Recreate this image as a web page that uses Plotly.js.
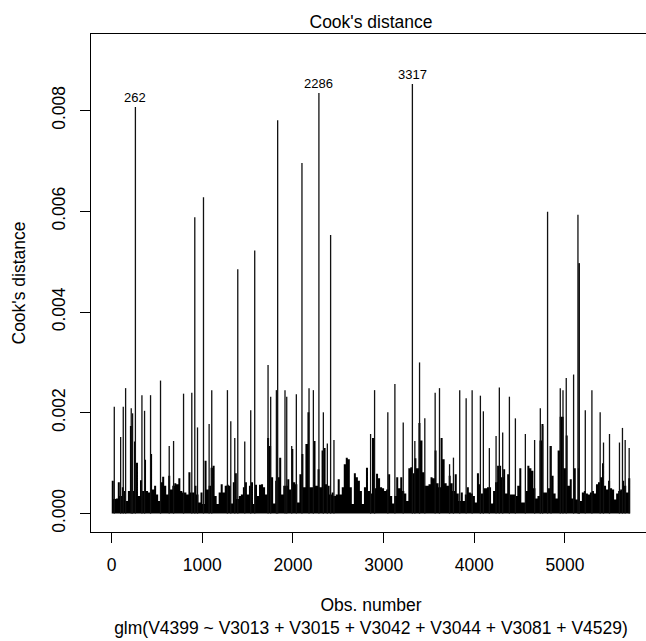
<!DOCTYPE html>
<html>
<head>
<meta charset="utf-8">
<script src="https://cdn.plot.ly/plotly-3.0.1.min.js"></script>
<style>
  html, body { margin: 0; padding: 0; background: #fff; overflow: hidden; }
  #chart { width: 700px; height: 641px; }
</style>
</head>
<body>
<div id="chart"></div>
<script>
// ---- data ----
const nObs = 5720;

// dense low-level Cook's distance mass, left to right (one value per ~22 observations)
const baseCook = [
  .00065,.00029,.00030,.00062,.00035,.00052,.00045,.00025,.00045,.00174,.00045,.00143,.00101,.00035,.00066,.00045,.00107,.00045,.00042,.00118,.00048,.00055,.00038,.00025,.00062,.00073,.00055,.00038,.00075,.00048,.00055,.00060,.00058,.00070,.00045,.00042,.00042,.00038,.00082,.00042,.00042,.00055,
  .00038,.00022,.00042,.00019,.00105,.00048,.00055,.00091,.00095,.00035,.00019,.00042,.00058,.00042,.00055,.00057,.00055,.00020,.00062,.00080,.00029,.00035,.00038,.00052,.00062,.00038,.00055,.00062,.00019,.00057,.00035,.00057,.00058,.00052,.00038,.00150,.00134,.00072,.00020,.00065,.00072,.00111,
  .00038,.00055,.00055,.00068,.00048,.00128,.00062,.00058,.00022,.00078,.00118,.00052,.00138,.00201,.00052,.00052,.00144,.00055,.00088,.00052,.00125,.00130,.00058,.00055,.00038,.00042,.00035,.00038,.00068,.00038,.00052,.00098,.00111,.00108,.00052,.00019,.00080,.00072,.00065,.00045,.00019,.00052,
  .00091,.00045,.00040,.00150,.00050,.00079,.00070,.00052,.00050,.00045,.00048,.00078,.00035,.00020,.00035,.00072,.00050,.00072,.00045,.00040,.00025,.00090,.00092,.00080,.00110,.00090,.00180,.00145,.00082,.00055,.00055,.00058,.00072,.00070,.00125,.00060,.00052,.00150,.00108,.00060,.00055,.00075,
  .00060,.00045,.00078,.00040,.00025,.00042,.00025,.00038,.00052,.00042,.00040,.00035,.00022,.00080,.00058,.00040,.00050,.00050,.00052,.00052,.00020,.00045,.00062,.00095,.00095,.00072,.00088,.00040,.00078,.00038,.00038,.00038,.00035,.00055,.00090,.00022,.00022,.00045,.00095,.00090,.00085,.00050,
  .00030,.00035,.00145,.00178,.00042,.00042,.00050,.00134,.00075,.00040,.00030,.00125,.00192,.00192,.00090,.00155,.00055,.00068,.00030,.00090,.00028,.00090,.00025,.00042,.00045,.00040,.00038,.00042,.00045,.00040,.00058,.00062,.00072,.00100,.00055,.00048,.00065,.00050,.00048,.00028,.00040,.00045,.00048,.00065,.00055,.00042,.00070
];

// individual taller observations
const spikeObs = [
  29, 99, 128, 154, 216, 231, 262, 334, 363, 429,
  539, 635, 683, 793, 884, 917, 947, 1013, 1075, 1104,
  1277, 1314, 1358, 1391, 1468, 1534, 1578, 1725, 1754, 1817,
  1831, 1912, 1931, 1986, 2037, 2099, 2177, 2225, 2286, 2335,
  2379, 2415, 2452, 2856, 2900, 3046, 3124, 3216, 3317, 3344,
  3396, 3454, 3568, 3616, 3727, 3770, 3839, 3910, 3976, 4067,
  4100, 4166, 4240, 4276, 4313, 4387, 4453, 4563, 4665, 4728,
  4753, 4808, 4846, 4948, 4978, 5014, 5095, 5143, 5155, 5158,
  5224, 5297, 5388, 5425, 5491, 5601, 5634, 5664, 5708
];
const spikeCook = [
  .00212, .00152, .00212, .00249, .00209, .00199, .00807, .00235, .00204, .00235,
  .00264, .00134, .00144, .00238, .00240, .00588, .00171, .00628, .00178, .00245,
  .00245, .00183, .00150, .00485, .00143, .00205, .00522, .00295, .00232, .00245,
  .00781, .00245, .00232, .00134, .00237, .00696, .00249, .00245, .00835, .00201,
  .00139, .00553, .00146, .00158, .00245, .00201, .00257, .00181, .00853, .00144,
  .00300, .00189, .00240, .00249, .00098, .00111, .00245, .00229, .00245, .00234,
  .00203, .00130, .00154, .00250, .00161, .00232, .00189, .00158, .00146, .00209,
  .00174, .00599, .00134, .00249, .00245, .00269, .00276, .00593, .00497, .00497,
  .00205, .00245, .00201, .00141, .00158, .00141, .00170, .00146, .00130
];

const labelObs = [262, 2286, 3317];

const xTicks = [0, 1000, 2000, 3000, 4000, 5000];
const yTicks = [0, 0.002, 0.004, 0.006, 0.008];

// ---- build traces ----
const step = (nObs - 1) / baseCook.length;
const baseX = [], baseY = [];
baseCook.forEach((v, i) => { baseX.push(1 + i * step); baseY.push(v); });
baseX.push(nObs); baseY.push(baseCook[baseCook.length - 1]);

const segX = [], segY = [];
spikeObs.forEach((o, i) => { segX.push(o, o, null); segY.push(0, spikeCook[i], null); });

const FONT = 'Liberation Sans, Arial, sans-serif';
const FS = 17.5;

const traces = [
  { type: 'scatter', mode: 'lines', x: baseX, y: baseY, line: { shape: 'hv', width: 0, color: '#000' },
    fill: 'tozeroy', fillcolor: '#000', hoverinfo: 'skip' },
  { type: 'scatter', mode: 'lines', x: segX, y: segY, line: { width: 1.3, color: '#111' },
    connectgaps: false, hoverinfo: 'skip' }
];

const annotations = labelObs.map(o => ({
  x: o, y: spikeCook[spikeObs.indexOf(o)], xref: 'x', yref: 'y',
  text: String(o), showarrow: false, yanchor: 'bottom', xanchor: 'center',
  font: { family: FONT, size: 13, color: '#000' }
}));

const ymaxLim = 0.009154;
const layout = {
  width: 700, height: 641,
  margin: { l: 91, r: 49, t: 34, b: 109 },
  paper_bgcolor: '#fff', plot_bgcolor: '#fff',
  showlegend: false,
  font: { family: FONT, size: FS, color: '#000' },
  title: { text: "Cook's distance", font: { family: FONT, size: FS, color: '#000' },
           x: 371 / 700, xanchor: 'center', xref: 'container', y: 1 - 22 / 641, yanchor: 'middle', yref: 'container' },
  xaxis: {
    range: [1 - 0.04 * (nObs - 1), nObs + 0.04 * (nObs - 1)],
    tickvals: xTicks, tickformat: 'd',
    showline: true, mirror: true, linecolor: '#000', linewidth: 1,
    ticks: 'outside', ticklen: 10, tickwidth: 1, tickcolor: '#000',
    showgrid: false, zeroline: false, ticklabelstandoff: 7,
    tickfont: { family: FONT, size: FS, color: '#000' },
    title: { text: 'Obs. number<br>glm(V4399 ~ V3013 + V3015 + V3042 + V3044 + V3081 + V4529)',
             standoff: 24, font: { family: FONT, size: FS, color: '#000' } }
  },
  yaxis: {
    range: [-0.04 * ymaxLim, 1.04 * ymaxLim],
    tickvals: yTicks, tickformat: '.3f', tickangle: -90,
    showline: true, mirror: true, linecolor: '#000', linewidth: 1,
    ticks: 'outside', ticklen: 10, tickwidth: 1, tickcolor: '#000',
    showgrid: false, zeroline: false, ticklabelstandoff: 8,
    tickfont: { family: FONT, size: FS, color: '#000' },
    title: { text: "Cook's distance", standoff: 18, font: { family: FONT, size: FS, color: '#000' } }
  },
  annotations: annotations
};

Plotly.newPlot('chart', traces, layout, { staticPlot: true, displayModeBar: false });
</script>
</body>
</html>
